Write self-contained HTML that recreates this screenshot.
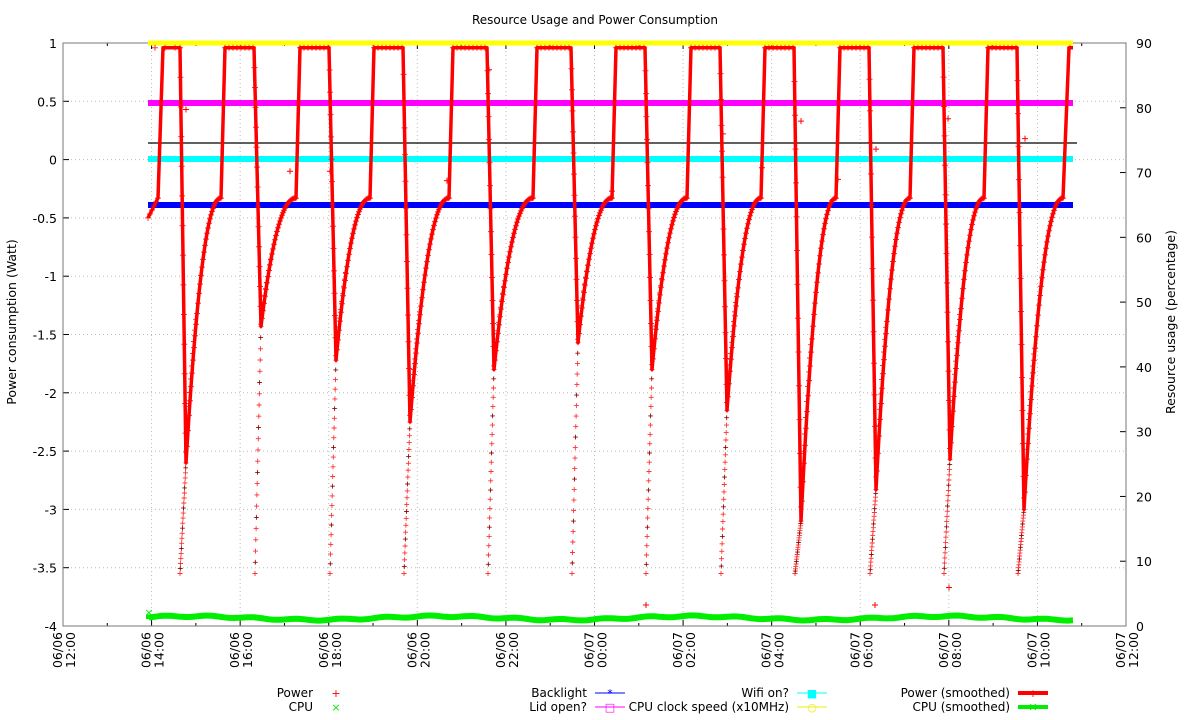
<!DOCTYPE html>
<html><head><meta charset="utf-8"><style>
html,body{margin:0;padding:0;background:#fff;}
svg{display:block;font-family:"DejaVu Sans","Liberation Sans",sans-serif;}
</style></head><body>
<svg id="s" width="1200" height="720" xmlns="http://www.w3.org/2000/svg"></svg>
<script>
const S=document.getElementById('s');
let h='';
const L=63,R=1126,T=43,B=626;
const Y=v=>T+(1-v)*(B-T)/5;
const YR=p=>B-p*(B-T)/90;
h+=`<text x="595" y="24" font-size="12" text-anchor="middle">Resource Usage and Power Consumption</text>`;
for(let i=0;i<=10;i++){const v=1-i*0.5,y=Y(v);
 if(i>0&&i<10)h+=`<line x1="${L}" x2="${R}" y1="${y}" y2="${y}" stroke="#bbb" stroke-dasharray="1,3"/>`;
 h+=`<line x1="${L}" x2="${L+6}" y1="${y}" y2="${y}" stroke="#000"/>`;
 h+=`<text x="${L-6}" y="${y+5}" font-size="12.5" text-anchor="end">${Number.isInteger(v)?v:v.toFixed(1)}</text>`;}
for(let p=0;p<=90;p+=10){const y=YR(p);
 h+=`<line x1="${R-6}" x2="${R}" y1="${y}" y2="${y}" stroke="#000"/>`;
 h+=`<text x="${R+10}" y="${y+5}" font-size="12.5">${p}</text>`;}
const lbl=["06/06|12:00","06/06|14:00","06/06|16:00","06/06|18:00","06/06|20:00","06/06|22:00","06/07|00:00","06/07|02:00","06/07|04:00","06/07|06:00","06/07|08:00","06/07|10:00","06/07|12:00"];
const dx=(R-L)/24;
for(let i=0;i<=24;i++){const x=L+i*dx;const maj=i%2==0;
 if(maj&&i>0&&i<24)h+=`<line x1="${x}" x2="${x}" y1="${T}" y2="${B}" stroke="#bbb" stroke-dasharray="1,3"/>`;
 const len=maj?6:3;
 h+=`<line x1="${x}" x2="${x}" y1="${B}" y2="${B-len}" stroke="#000"/><line x1="${x}" x2="${x}" y1="${T}" y2="${T+len}" stroke="#000"/>`;
 if(maj){const [a,b]=lbl[i/2].split('|');
 h+=`<text transform="translate(${x-1},${632}) rotate(-90)" font-size="12.5" text-anchor="end">${a}</text>`;
 h+=`<text transform="translate(${x+12},${632}) rotate(-90)" font-size="12.5" text-anchor="end">${b}</text>`;}}
h+=`<rect x="${L}" y="${T}" width="${R-L}" height="${B-T}" fill="none" stroke="#777" stroke-width="1"/>`;
h+=`<text transform="translate(16,322) rotate(-90)" font-size="12.5" text-anchor="middle">Power consumption (Watt)</text>`;
h+=`<text transform="translate(1175,322) rotate(-90)" font-size="12.5" text-anchor="middle">Resource usage (percentage)</text>`;
const x0=148,x1=1073;
h+=`<line x1="${x0}" x2="${x1}" y1="43" y2="43" stroke="#ff0" stroke-width="5"/>`;
h+=`<line x1="${x0}" x2="${x1}" y1="103" y2="103" stroke="#f0f" stroke-width="6"/>`;
h+=`<line x1="${x0}" x2="1077" y1="143" y2="143" stroke="#000" stroke-width="1.2"/>`;
h+=`<line x1="${x0}" x2="${x1}" y1="159" y2="159" stroke="#0ff" stroke-width="6"/>`;
h+=`<line x1="${x0}" x2="${x1}" y1="205" y2="205" stroke="#00f" stroke-width="6"/>`;
let g='M149,619';
for(let x=149;x<=1073;x+=3){const y=618+1.8*Math.sin(x/40)+0.8*Math.sin(x/7);g+=`L${x},${y.toFixed(1)}`;}
h+=`<path d="${g}" fill="none" stroke="#0e0" stroke-width="6"/>`;
h+=`<text x="149" y="616" font-size="11" fill="#0e0" text-anchor="middle">×</text>`;
const mins=[[186,-2.6],[261,-1.43],[336,-1.72],[410,-2.25],[494,-1.8],[578,-1.57],[652,-1.8],[727,-2.15],[801,-3.1],[876,-2.83],[950,-2.57],[1024,-3.0]];
const TOP=0.96;
let pts=[[148,-0.5]];let mk=[];let raw=[];let blk=[];
for(let x=148;x<=158;x+=2){pts.push([x,-0.5+0.17*(x-148)/10]);mk.push([x,-0.5+0.17*(x-148)/10]);}
pts.push([163,TOP],[180,TOP]);
mk.push([155,TOP],[165,TOP],[175,TOP],[180,TOP]);
for(let i=0;i<mins.length;i++){const [m,v]=mins[i];
 pts.push([m,v]);
 const nx=i<mins.length-1?mins[i+1][0]:1100;
 let r=i<mins.length-1?m+Math.round(0.46*(nx-m)):1063;
 for(let x=m+1;x<=r;x+=1){const t=(x-m)/(r-m);const y=-0.33+(v+0.33)*Math.pow(1-t,2.2);pts.push([x,y]);mk.push([x,y]);
   if(x<m+12){raw.push([x-1.5,y-0.05]);}}
 // raw column below min
 const n=22;
 for(let k=0;k<=n;k++){const f=k/n;const y=-3.55+f*(v+3.55);const x=m-6+f*6;raw.push([x,y]);if(k%4==1)blk.push([x,y]);}
 const ts=r+4;
 if(i<mins.length-1){const te=nx-7;pts.push([ts,TOP],[te,TOP]);for(let x=ts;x<=te;x+=4)mk.push([x,TOP]);}
 else{pts.push([ts+2,TOP],[1073,TOP]);mk.push([1070,TOP]);}
}
for(let i=0;i<mins.length;i++){const [m,v]=mins[i];const te=i==0?180:mins[i][0]-7;
 for(let k=1;k<14;k++){const f=k/14;mk.push([te+f*(m-te),TOP+f*(v-TOP)]);}}
const cross=(arr,s)=>{let o='';arr.forEach(p=>{const x=p[0],y=Y(p[1]);o+=`M${(x-s).toFixed(1)},${y.toFixed(1)}h${2*s}M${x.toFixed(1)},${(y-s).toFixed(1)}v${2*s}`;});return o;};
h+=`<path d="${cross(raw,2.5)}" stroke="#f00" stroke-width="0.9" fill="none" opacity="0.8"/>`;
h+=`<path d="${cross(blk,2)}" stroke="#000" stroke-width="0.7" fill="none" opacity="0.6"/>`;
let d='';pts.forEach((p,i)=>{d+=(i?'L':'M')+p[0]+','+Y(p[1]).toFixed(1);});
h+=`<path d="${d}" fill="none" stroke="#f00" stroke-width="3.5" stroke-linejoin="round"/>`;
h+=`<path d="${cross(mk,3)}" stroke="#f00" stroke-width="1" fill="none" opacity="0.8"/>`;
const stray=[[186,0.43],[290,-0.1],[330,-0.1],[447,-0.18],[489,0.77],[612,-0.27],[646,-3.82],[723,0.22],[762,-0.07],[801,0.33],[838,-0.17],[875,-3.82],[876,0.09],[948,0.35],[949,-3.67],[1025,0.18]];
h+=`<path d="${cross(stray,3)}" stroke="#f00" stroke-width="1" fill="none"/>`;
const lg=(x,y,t,col,w,mark)=>{h+=`<text x="${x}" y="${y+4}" font-size="12" text-anchor="end">${t}</text>`;
 if(w)h+=`<line x1="${x+8}" x2="${x+38}" y1="${y}" y2="${y}" stroke="${col}" stroke-width="${w}"/>`;
 h+=`<text x="${x+23}" y="${y+4}" font-size="11" fill="${col}" text-anchor="middle">${mark}</text>`;};
lg(313,693,'Power','#f00',0,'+');lg(313,707,'CPU','#0e0',0,'×');
lg(587,693,'Backlight','#00f',1,'*');lg(587,707,'Lid open?','#f0f',1,'□');
lg(789,693,'Wifi on?','#0ff',1,'■');lg(789,707,'CPU clock speed (x10MHz)','#ee0',1,'○');
lg(1010,693,'Power (smoothed)','#f00',4,'+');lg(1010,707,'CPU (smoothed)','#0e0',4,'✕');
S.innerHTML=h;
</script>
</body></html>
